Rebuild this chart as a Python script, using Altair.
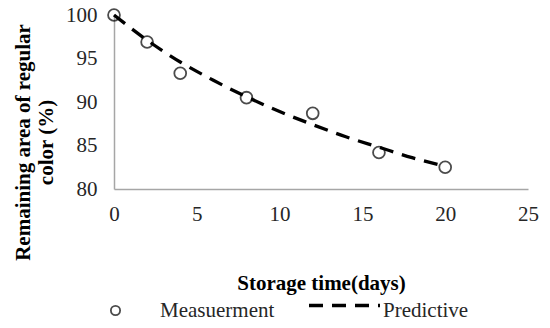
import altair as alt
import pandas as pd

# Measured points
meas_days = [0, 2, 4, 8, 12, 16, 20]
meas_vals = [100.0, 96.9, 93.3, 90.5, 88.7, 84.2, 82.5]
# Predictive curve
pred_days = [0, 2, 4, 6, 8, 10, 12, 14, 16, 18, 20]
pred_vals = [100.0, 97.1, 94.6, 92.5, 90.6, 88.9, 87.4, 86.0, 84.8, 83.6, 82.6]

x_ticks = [0, 5, 10, 15, 20, 25]
y_ticks = [80, 85, 90, 95, 100]

meas = pd.DataFrame({"day": meas_days, "value": meas_vals, "m_series": "Measuerment"})
pred = pd.DataFrame({"day": pred_days, "value": pred_vals, "p_series": "Predictive"})

FONT = "Liberation Serif"
TXT = "#262626"
AXC = "#a6a6a6"

x_enc = alt.X(
    "day:Q",
    scale=alt.Scale(domain=[0, 25], nice=False, zero=False),
    axis=alt.Axis(
        values=x_ticks, title="Storage time(days)", grid=False, ticks=False,
        domainColor=AXC, domainWidth=1.5, labelFont=FONT, labelFontSize=21,
        labelColor=TXT, labelPadding=14, labelFlush=False, titleFont=FONT,
        titleFontSize=21, titleFontWeight="bold", titleColor="black",
        titleBaseline="middle", titleY=94,
    ),
)
y_enc = alt.Y(
    "value:Q",
    scale=alt.Scale(domain=[80, 100], nice=False, zero=False),
    axis=alt.Axis(
        values=y_ticks, title=["Remaining area of regular", "color (%)"],
        grid=False, ticks=False, domainColor=AXC, domainWidth=1.5,
        labelFont=FONT, labelFontSize=21, labelColor=TXT, labelPadding=17,
        labelFlush=False, titleFont=FONT, titleFontSize=21,
        titleFontWeight="bold", titleColor="black", titleAngle=270,
        titleBaseline="top", titleAlign="center", titleX=-102, titleY=127,
        titleLineHeight=23,
    ),
)

points = alt.Chart(meas).mark_point(
    size=140, color="black", strokeWidth=1.8, filled=False
).encode(
    x=x_enc,
    y=y_enc,
    shape=alt.Shape(
        "m_series:N",
        scale=alt.Scale(domain=["Measuerment"], range=["circle"]),
        legend=alt.Legend(
            title=None, orient="none", legendX=-9, legendY=285, padding=0,
            symbolSize=85, symbolStrokeColor="black", symbolStrokeWidth=1.8,
            symbolFillColor="white", labelFont=FONT, labelFontSize=21,
            labelColor=TXT, labelOffset=34,
        ),
    ),
)

line = alt.Chart(pred).mark_line(
    color="black", strokeWidth=3.3, interpolate="monotone"
).encode(
    x="day:Q",
    y="value:Q",
    strokeDash=alt.StrokeDash(
        "p_series:N",
        scale=alt.Scale(domain=["Predictive"], range=[[14, 9]]),
        legend=alt.Legend(
            title=None, orient="none", legendX=193, legendY=258, padding=0,
            symbolType="M-1,-0.14H1", symbolSize=5041,
            symbolStrokeColor="black", symbolFillColor="transparent",
            symbolStrokeWidth=3.5, symbolDash=[17, 14], labelFont=FONT,
            labelFontSize=21, labelColor=TXT, labelOffset=1,
        ),
    ),
)

chart = alt.layer(points, line).properties(
    width=414,
    height=174,
    padding={"left": 106, "top": 7, "right": 14, "bottom": 131},
    autosize=alt.AutoSizeParams(type="none"),
    background="white",
).configure(font=FONT).configure_view(stroke=None)

chart.save("out.html", embed_options={"renderer": "svg", "actions": False})
